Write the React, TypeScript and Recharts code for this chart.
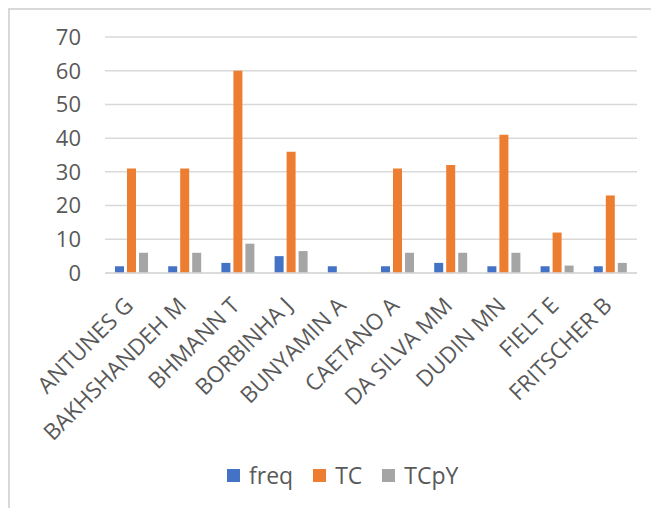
import { BarChart, Bar, XAxis, YAxis, CartesianGrid, Legend } from "recharts";

const authors = [
  "ANTUNES G",
  "BAKHSHANDEH M",
  "BHMANN T",
  "BORBINHA J",
  "BUNYAMIN A",
  "CAETANO A",
  "DA SILVA MM",
  "DUDIN MN",
  "FIELT E",
  "FRITSCHER B",
];
const freq = [2, 2, 3, 5, 2, 2, 3, 2, 2, 2];
const tc = [31, 31, 60, 36, null, 31, 32, 41, 12, 23];
const tcpy = [6, 6, 8.7, 6.5, null, 6, 6, 6, 2.2, 3];
const yTicks = [0, 10, 20, 30, 40, 50, 60, 70];

const seriesNames = ["freq", "TC", "TCpY"];
const seriesColors = ["#4472C4", "#ED7D31", "#A5A5A5"];

const data = authors.map((name, i) => ({
  name,
  freq: freq[i],
  TC: tc[i],
  TCpY: tcpy[i],
}));

const FONT = "'Open Sans', 'Noto Sans', sans-serif";
const TEXT = "#595959";

function AuthorTick({ x, y, payload }: any) {
  const ax = x + 3;
  const ay = y + 26;
  return (
    <text
      x={ax}
      y={ay}
      transform={`rotate(-45, ${ax}, ${ay})`}
      textAnchor="end"
      fill={TEXT}
      fontSize={22.5}
      fontFamily={FONT}
    >
      {payload.value}
    </text>
  );
}

function LegendBox() {
  return (
    <div style={{ display: "flex", alignItems: "center", height: 30, fontFamily: FONT, fontSize: 23, color: TEXT }}>
      {seriesNames.map((n, i) => (
        <div key={n} style={{ display: "flex", alignItems: "center", marginRight: 20 }}>
          <span style={{ width: 13, height: 13, background: seriesColors[i], display: "inline-block", marginRight: 9 }} />
          <span>{n}</span>
        </div>
      ))}
    </div>
  );
}

export default function App() {
  return (
    <div style={{ borderTop: "2px solid #d9d9d9", borderLeft: "2px solid #d9d9d9", width: 649, height: 498, background: "#fff" }}>
      <BarChart
        width={649}
        height={498}
        data={data}
        margin={{ top: 27, right: 22, left: 0, bottom: 10 }}
        barSize={9}
        barGap={3}
      >
        <CartesianGrid vertical={false} stroke="#d9d9d9" strokeWidth={1.5} />
        <XAxis
          dataKey="name"
          interval={0}
          height={195}
          tick={<AuthorTick />}
          tickLine={false}
          axisLine={{ stroke: "#d9d9d9", strokeWidth: 1.5 }}
        />
        <YAxis
          width={95}
          domain={[0, 70]}
          ticks={yTicks}
          tickSize={0}
          tickMargin={24}
          axisLine={false}
          tickLine={false}
          tick={{ fill: TEXT, fontSize: 22, fontFamily: FONT }}
        />
        <Legend
          content={<LegendBox />}
          wrapperStyle={{ top: 450, left: 217, bottom: "auto", width: "auto" }}
        />
        <Bar dataKey="freq" fill={seriesColors[0]} isAnimationActive={false} />
        <Bar dataKey="TC" fill={seriesColors[1]} isAnimationActive={false} />
        <Bar dataKey="TCpY" fill={seriesColors[2]} isAnimationActive={false} />
      </BarChart>
    </div>
  );
}
